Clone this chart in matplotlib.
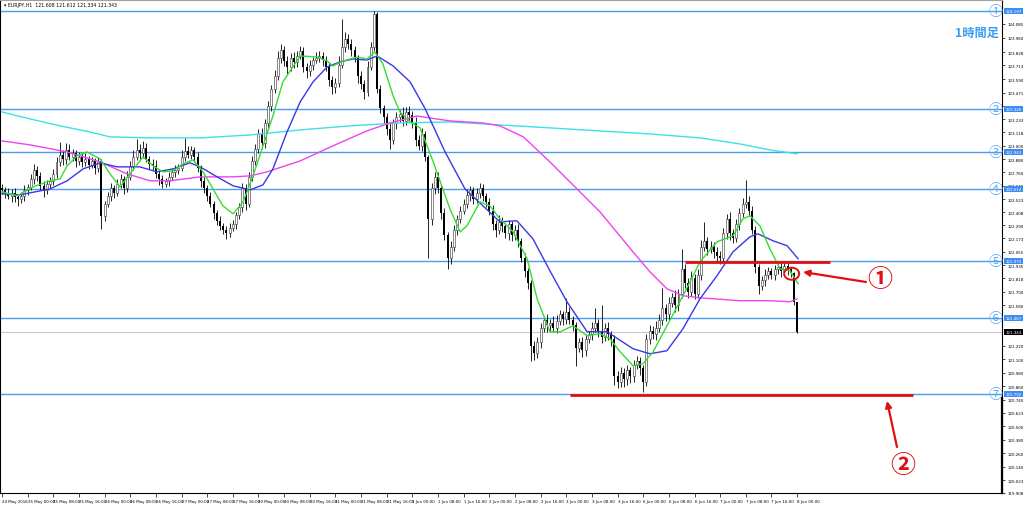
import matplotlib
matplotlib.use('Agg')
import matplotlib.pyplot as plt
from matplotlib.patches import Ellipse
import numpy as np

plt.rcParams['font.family'] = ['DejaVu Sans']

# ---------------- data ----------------
first_open = 122.62
closes = [
    122.60, 122.57, 122.55, 122.58, 122.54, 122.52, 122.55, 122.60,
    122.63, 122.70, 122.78, 122.73, 122.64, 122.60, 122.66, 122.68,
    122.75, 122.85, 122.92, 122.88, 122.96, 122.90, 122.93, 122.86,
    122.90, 122.85, 122.88, 122.83, 122.86, 122.80, 122.86, 122.37,
    122.48, 122.55, 122.62, 122.58, 122.66, 122.70, 122.62, 122.72,
    122.82, 122.90, 122.96, 122.93, 122.98, 122.88, 122.84, 122.82,
    122.75, 122.70, 122.66, 122.68, 122.72, 122.76, 122.78, 122.80,
    122.90, 122.95, 122.92, 122.96, 122.90, 122.80, 122.68, 122.62,
    122.55, 122.48, 122.40, 122.33, 122.28, 122.25, 122.22, 122.27,
    122.30, 122.38, 122.45, 122.62, 122.48, 122.72, 122.86, 122.97,
    123.10, 123.02, 123.20, 123.35, 123.50, 123.62, 123.78, 123.85,
    123.75, 123.70, 123.78, 123.74, 123.80, 123.84, 123.70, 123.66,
    123.72, 123.76, 123.78, 123.80, 123.76, 123.70, 123.58, 123.52,
    123.56, 123.72, 123.88, 123.95, 123.90, 123.85, 123.78, 123.62,
    123.55, 123.48, 123.70, 123.88, 124.17, 123.50, 123.33, 123.25,
    123.15, 123.05, 123.20, 123.25, 123.28, 123.22, 123.30, 123.27,
    123.20, 123.05, 123.00, 123.10, 122.90, 122.35, 122.62, 122.72,
    122.62, 122.40, 122.20, 122.00, 122.10, 122.25, 122.35, 122.42,
    122.48, 122.56, 122.60, 122.52, 122.58, 122.62, 122.55, 122.50,
    122.42, 122.30, 122.25, 122.32, 122.28, 122.22, 122.30, 122.20,
    122.25, 122.15, 122.00, 121.88, 121.78, 121.22, 121.15, 121.25,
    121.38, 121.45, 121.40, 121.42, 121.38, 121.44, 121.50, 121.46,
    121.52, 121.45, 121.40, 121.20, 121.25, 121.18, 121.28, 121.32,
    121.38, 121.42, 121.35, 121.30, 121.38, 121.32, 121.28, 120.95,
    120.90, 120.98, 120.92, 121.00, 120.95, 121.05, 121.08, 121.02,
    120.90, 121.28, 121.35, 121.32, 121.38, 121.45, 121.55, 121.50,
    121.60, 121.65, 121.58, 121.68, 121.90, 121.78, 121.70, 121.82,
    121.68, 121.85, 122.10, 122.15, 122.08, 122.10, 122.05, 122.02,
    122.00, 122.22, 122.35, 122.22, 122.18, 122.30, 122.40, 122.48,
    122.50, 122.42, 122.25, 121.92, 121.75, 121.80, 121.85, 121.88,
    121.85, 121.90, 121.92, 121.88, 121.93, 121.90, 121.87, 121.608,
    121.343,
]
# upper / lower wick length beyond the body
wick_up = [
    .04, .03, .05, .03, .04, .03, .04, .05,
    .03, .05, .06, .04, .03, .04, .03, .04,
    .04, .05, .11, .04, .06, .05, .04, .03,
    .04, .03, .05, .03, .04, .03, .04, .02,
    .03, .04, .05, .03, .04, .05, .03, .05,
    .04, .06, .10, .05, .06, .04, .03, .04,
    .05, .03, .04, .03, .04, .03, .05, .04,
    .06, .12, .05, .04, .03, .04, .03, .04,
    .03, .04, .03, .03, .04, .03, .03, .04,
    .04, .03, .04, .05, .04, .04, .05, .04,
    .05, .06, .04, .05, .04, .05, .06, .05,
    .04, .05, .04, .05, .04, .05, .04, .03,
    .04, .03, .05, .04, .03, .04, .03, .04,
    .04, .08, .25, .06, .04, .05, .04, .03,
    .04, .03, .05, .04, .027, .02, .04, .03,
    .04, .05, .04, .05, .04, .06, .04, .05,
    .04, .05, .04, .06, .03, .02, .05, .04,
    .04, .03, .04, .03, .05, .04, .03, .04,
    .04, .05, .04, .03, .04, .05, .04, .03,
    .03, .05, .04, .06, .04, .03, .04, .03,
    .04, .05, .03, .04, .03, .02, .04, .05,
    .04, .03, .05, .04, .06, .05, .04, .03,
    .12, .04, .03, .03, .04, .05, .04, .03,
    .05, .13, .04, .23, .04, .05, .03, .03,
    .04, .05, .04, .05, .03, .04, .05, .04,
    .03, .04, .05, .04, .06, .05, .18, .04,
    .05, .04, .06, .04, .18, .05, .04, .06,
    .04, .05, .06, .17, .04, .05, .04, .05,
    .04, .05, .04, .06, .04, .05, .04, .05,
    .19, .05, .04, .03, .03, .04, .05, .04,
    .03, .04, .03, .04, .03, .04, .02, .004,
    .004,
]
wick_dn = [
    .03, .04, .03, .05, .04, .06, .03, .04,
    .04, .03, .04, .05, .04, .06, .03, .04,
    .03, .04, .03, .05, .04, .03, .04, .05,
    .03, .04, .03, .04, .03, .05, .04, .11,
    .04, .03, .04, .05, .03, .04, .05, .03,
    .03, .04, .03, .05, .04, .03, .05, .04,
    .04, .05, .04, .03, .04, .03, .04, .03,
    .03, .04, .03, .04, .05, .04, .05, .04,
    .04, .03, .05, .04, .03, .04, .05, .03,
    .03, .04, .03, .04, .05, .03, .04, .03,
    .04, .05, .04, .05, .04, .03, .04, .05,
    .04, .06, .04, .05, .04, .03, .05, .06,
    .04, .05, .03, .04, .05, .04, .05, .06,
    .05, .04, .03, .05, .04, .05, .04, .06,
    .05, .07, .04, .03, .04, .03, .04, .05,
    .06, .08, .04, .05, .04, .05, .04, .06,
    .04, .05, .04, .05, .04, .35, .06, .05,
    .04, .05, .04, .10, .05, .04, .05, .04,
    .03, .04, .05, .04, .03, .05, .04, .05,
    .04, .05, .06, .04, .05, .04, .06, .05,
    .04, .05, .04, .05, .06, .14, .06, .04,
    .05, .04, .06, .05, .04, .05, .04, .06,
    .05, .04, .05, .16, .04, .06, .05, .04,
    .05, .04, .05, .06, .04, .05, .06, .08,
    .06, .05, .07, .05, .06, .05, .04, .06,
    .09, .04, .05, .04, .05, .04, .05, .06,
    .05, .04, .06, .05, .04, .05, .06, .04,
    .05, .04, .05, .04, .05, .04, .05, .06,
    .05, .04, .05, .06, .05, .04, .05, .04,
    .04, .05, .04, .05, .07, .04, .05, .04,
    .04, .05, .04, .05, .04, .05, .04, .03,
    .009,
]

# moving averages (bar index, price)
ma_green_idx = [0, 4.7, 9.7, 15.0, 18.1, 20.3, 23.4, 26.5, 30.6, 33.7, 36.8, 39.9, 44.0, 47.1, 50.2, 53.3,
                56.5, 59.6, 62.7, 65.8, 68.9, 72.1, 75.2, 78.3, 81.4, 84.5, 87.6, 93.0, 98.3, 101.4, 103.2,
                106.4, 110.7, 113.8, 116.3, 118.8, 122.0, 124.1, 127.3, 130.4, 134.4, 139.7, 142.9, 145.0,
                149.1, 152.2, 155.3, 159.4, 163.8, 166.9, 170.9, 174.1, 178.1, 182.5, 186.5, 189.6, 192.8,
                196.8, 199.9, 203.1, 207.4, 212.4, 217.7, 223.0, 228.0, 231.1, 233.3, 236.4, 239.5, 242.7,
                245.8, 248.3]
ma_green = [122.588, 122.552, 122.632, 122.686, 122.703, 122.819, 122.908, 122.943, 122.881, 122.748, 122.632,
            122.748, 122.899, 122.819, 122.766, 122.774, 122.837, 122.872, 122.766, 122.614, 122.463, 122.392,
            122.499, 122.730, 122.997, 123.263, 123.566, 123.797, 123.788, 123.752, 123.708, 123.752, 123.788,
            123.770, 123.832, 123.726, 123.441, 123.299, 123.210, 123.157, 122.863, 122.437, 122.232, 122.285,
            122.499, 122.463, 122.348, 122.232, 121.992, 121.636, 121.343, 121.343, 121.396, 121.307, 121.326,
            121.281, 121.165, 121.041, 121.058, 121.165, 121.396, 121.663, 121.965, 122.143, 122.197, 122.348,
            122.374, 122.285, 122.081, 121.903, 121.885, 121.770]
ma_blue_idx = [0, 5.6, 15.0, 20.3, 25.3, 30.6, 35.9, 43.0, 48.3, 53.3, 58.6, 61.8, 67.1, 72.1, 77.4, 81.4,
               84.5, 88.9, 93.0, 97.0, 101.4, 105.4, 109.5, 113.8, 117.0, 122.0, 127.3, 132.0, 138.2, 144.4,
               155.3, 160.6, 165.6, 170.9, 176.2, 182.5, 188.7, 196.8, 202.1, 207.4, 212.4, 217.7, 223.0,
               228.0, 233.3, 235.8, 240.5, 244.9, 248.3]
ma_blue = [122.570, 122.561, 122.614, 122.686, 122.792, 122.846, 122.810, 122.810, 122.766, 122.792, 122.846,
           122.810, 122.721, 122.641, 122.606, 122.650, 122.792, 123.121, 123.388, 123.566, 123.699, 123.744,
           123.770, 123.761, 123.797, 123.708, 123.566, 123.326, 122.943, 122.614, 122.321, 122.330, 122.170,
           121.885, 121.610, 121.343, 121.343, 121.192, 121.147, 121.174, 121.370, 121.636, 121.841, 122.054,
           122.188, 122.214, 122.152, 122.108, 121.992]
ma_magenta_idx = [0, 8.7, 20.3, 30.6, 39.0, 46.2, 52.4, 61.8, 72.1, 77.4, 82.7, 93.0, 103.2, 113.8, 121.0,
                  129.4, 139.7, 150.0, 155.3, 162.6, 165.6, 170.9, 176.2, 186.5, 196.8, 202.1, 207.4, 212.4,
                  217.7, 230.2, 239.5, 245.8, 248.0]
ma_magenta = [123.041, 123.006, 122.943, 122.854, 122.748, 122.686, 122.686, 122.721, 122.721, 122.730, 122.766,
              122.863, 122.997, 123.130, 123.201, 123.263, 123.219, 123.201, 123.175, 123.077, 122.997, 122.854,
              122.703, 122.410, 122.054, 121.876, 121.725, 121.663, 121.645, 121.619, 121.619, 121.610, 121.636]
ma_cyan_idx = [0, 8.7, 18.1, 27.4, 33.7, 46.2, 61.8, 77.4, 93.0, 108.5, 124.1, 139.7, 155.3, 170.9, 186.5,
               202.1, 217.7, 230.2, 239.5, 248.0]
ma_cyan = [123.299, 123.237, 123.175, 123.121, 123.077, 123.068, 123.068, 123.094, 123.139, 123.175, 123.201,
           123.210, 123.183, 123.157, 123.130, 123.103, 123.068, 123.014, 122.961, 122.926]

# horizontal support / resistance lines (①..⑦)
level_names = ['①', '②', '③', '④', '⑤', '⑥', '⑦']
levels = [124.197, 123.326, 122.943, 122.614, 121.974, 121.467, 120.792]
current_price = 121.343

# red marks: (price, start bar, end bar)
red_lines = [(121.968, 213.0, 258.3), (120.783, 177.2, 284.2)]

xtick_labels = ['24 May 2016', '25 May 00:00', '25 May 08:00', '25 May 16:00', '26 May 00:00', '26 May 08:00',
                '26 May 16:00', '27 May 00:00', '27 May 08:00', '27 May 16:00', '30 May 00:00', '30 May 08:00',
                '30 May 16:00', '31 May 00:00', '31 May 08:00', '31 May 16:00', '1 Jun 00:00', '1 Jun 08:00',
                '1 Jun 16:00', '2 Jun 00:00', '2 Jun 08:00', '2 Jun 16:00', '3 Jun 00:00', '3 Jun 08:00',
                '3 Jun 16:00', '6 Jun 00:00', '6 Jun 08:00', '6 Jun 16:00', '7 Jun 00:00', '7 Jun 08:00',
                '7 Jun 16:00', '8 Jun 00:00']
# price-axis labels (those hidden under the highlighted boxes are left out, as on the chart)
ytick_vals = [124.085, 123.960, 123.828, 123.713, 123.590, 123.471, 123.350, 123.233, 123.118, 123.000,
              122.880, 122.760, 122.640, 122.523, 122.408, 122.290, 122.173, 122.055, 121.935, 121.818,
              121.700, 121.580, 121.220, 121.100, 120.980, 120.860, 120.740, 120.623,
              120.500, 120.380, 120.260, 120.140, 120.023, 119.908]
title_text = '\u25be EURJPY,H1  121.608 121.612 121.334 121.343'

# ---------------- figure ----------------
W, H = 1024, 506
FS = 2.9  # tiny MT4-like axis font
fig = plt.figure(figsize=(W / 100, H / 100), dpi=100)
fig.patch.set_facecolor('white')
ax = fig.add_axes([0 / W, (H - 494) / H, 1002 / W, 493 / H])
ax.set_facecolor('white')

c = np.array(closes)
o = np.array([first_open] + closes[:-1])
idx = np.arange(len(c))
hi = np.maximum(o, c) + np.array(wick_up)
lo = np.minimum(o, c) - np.array(wick_dn)
bull = c >= o
bear = ~bull

ax.axhline(current_price, color='#c8c8c8', lw=0.8, zorder=1)
for lv in levels:
    ax.axhline(lv, color='#4a9cf2', lw=1.0, zorder=2)

ax.vlines(idx, lo, hi, color='black', lw=0.6, zorder=3)
ax.bar(idx[bull], (c - o)[bull], bottom=o[bull], width=0.62, facecolor='white',
       edgecolor='#444444', linewidth=0.45, zorder=4)
ax.bar(idx[bear], (o - c)[bear], bottom=c[bear], width=0.62, color='black',
       linewidth=0, zorder=4)

ax.plot(ma_cyan_idx, ma_cyan, color='#3fe0e6', lw=1.0, zorder=5)
ax.plot(ma_magenta_idx, ma_magenta, color='#ee44ee', lw=1.0, zorder=5)
ax.plot(ma_blue_idx, ma_blue, color='#3838e8', lw=1.0, zorder=5)
ax.plot(ma_green_idx, ma_green, color='#33dd33', lw=1.0, zorder=5)

for price, x0, x1 in red_lines:
    ax.hlines(price, x0, x1, color='#e01010', lw=2.0, zorder=6)
ax.add_patch(Ellipse((246.3, 121.859), 4.7, 0.107, fill=False, ec='#e01010', lw=1.4, zorder=7))

ax.set_xlim(-0.624, 311.9)
ax.set_ylim(119.912, 124.295)

# axes styling
for s in ['left', 'bottom', 'right']:
    ax.spines[s].set_color('black')
    ax.spines[s].set_linewidth(0.8)
ax.spines['top'].set_color('#a0a0a0')
ax.spines['top'].set_linewidth(1.5)

ax.set_xticks(np.arange(0, 8 * len(xtick_labels), 8))
ax.set_xticklabels(xtick_labels)
for lbl in ax.get_xticklabels():
    lbl.set_ha('left')
ax.tick_params(axis='x', direction='out', length=3, width=0.5, labelsize=FS, pad=1.2)

ax.yaxis.tick_right()
ax.set_yticks(ytick_vals)
ax.set_yticklabels([f'{v:.3f}' for v in ytick_vals])
ax.tick_params(axis='y', direction='out', length=2.5, width=0.5, labelsize=FS, pad=1.5)

# highlighted labels on the price axis
for lv in levels:
    ax.annotate(f'{lv:.3f}', xy=(1, lv), xycoords=('axes fraction', 'data'), xytext=(2.4, 0),
                textcoords='offset points', ha='left', va='center', fontsize=FS, color='white',
                bbox=dict(boxstyle='square,pad=0.25', fc='#3d8ef0', ec='none'), zorder=10,
                annotation_clip=False)
ax.annotate(f'{current_price:.3f}', xy=(1, current_price), xycoords=('axes fraction', 'data'),
            xytext=(2.4, 0), textcoords='offset points', ha='left', va='center', fontsize=FS,
            color='white', bbox=dict(boxstyle='square,pad=0.25', fc='black', ec='none'), zorder=10,
            annotation_clip=False)

# dark segment of right border near the bottom
ax.plot([1, 1], [119.912, 120.75], transform=ax.get_yaxis_transform(), color='black', lw=1.6,
        clip_on=False, zorder=11)

# circled numbers at the right end of each line
for name, lv in zip(level_names, levels):
    ax.annotate(name, xy=(1, lv), xycoords=('axes fraction', 'data'), xytext=(-4.5, 0),
                textcoords='offset points', ha='center', va='center', fontsize=10,
                color='#5aaaf2', family=['Noto Sans CJK JP', 'DejaVu Sans'], zorder=12,
                annotation_clip=False)

# texts in figure pixel space
fig.text(4 / W, 1 - 5 / H, title_text, fontsize=3.3, ha='left', va='center', color='black')
fig.text(977 / W, 1 - 33 / H, '1時間足', fontsize=8.8, fontweight='bold', color='#3a9ef5',
         ha='center', va='center', family=['Noto Sans CJK JP', 'DejaVu Sans'])

red = '#e01010'
ax.annotate('', xy=(803, H - 273), xycoords='figure pixels', xytext=(866, H - 283),
            textcoords='figure pixels',
            arrowprops=dict(arrowstyle='-|>', color=red, lw=1.6, mutation_scale=9, shrinkA=0, shrinkB=0))
ax.annotate('', xy=(887, H - 402), xycoords='figure pixels', xytext=(897, H - 448),
            textcoords='figure pixels',
            arrowprops=dict(arrowstyle='-|>', color=red, lw=1.6, mutation_scale=9, shrinkA=0, shrinkB=0))
fig.text(880 / W, 1 - 280 / H, '①', fontsize=18, fontweight='bold', color=red, ha='center',
         va='center', family=['Noto Sans CJK JP', 'DejaVu Sans'])
fig.text(903 / W, 1 - 466 / H, '②', fontsize=18, fontweight='bold', color=red, ha='center',
         va='center', family=['Noto Sans CJK JP', 'DejaVu Sans'])

fig.savefig('out.png', dpi=100, facecolor='white')
